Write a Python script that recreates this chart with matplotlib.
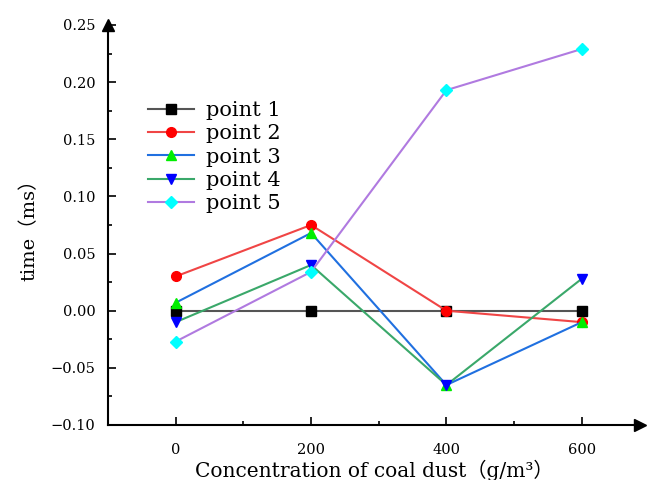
import matplotlib

matplotlib.use("Agg")
import matplotlib.pyplot as plt
from matplotlib.ticker import MultipleLocator

plt.rcParams["font.family"] = ["DejaVu Serif", "Noto Sans CJK SC"]

concentration = [0, 200, 400, 600]
point1 = [0.0, 0.0, 0.0, 0.0]
point2 = [0.030, 0.075, 0.0, -0.010]
point3 = [0.007, 0.068, -0.065, -0.010]
point4 = [-0.010, 0.040, -0.065, 0.028]
point5 = [-0.027, 0.034, 0.193, 0.229]

series = [
    ("point 1", point1, "#555555", "s", "black"),
    ("point 2", point2, "#f04545", "o", "#ff0000"),
    ("point 3", point3, "#2070e0", "^", "#00ee00"),
    ("point 4", point4, "#3aa86a", "v", "#0000ff"),
    ("point 5", point5, "#b07ae0", "D", "#00ffff"),
]

fig = plt.figure(figsize=(6.48, 4.8), dpi=100)
ax = fig.add_axes([108 / 648, 55 / 480, 532 / 648, 400 / 480])

for label, vals, lc, mk, mc in series:
    ms = 6 if mk == "D" else 7
    ax.plot(concentration, vals, color=lc, linewidth=1.5, marker=mk,
            markersize=ms, markerfacecolor=mc, markeredgecolor=mc, label=label)

ax.set_xlim(-100, 686)
ax.set_ylim(-0.10, 0.25)
ax.xaxis.set_major_locator(MultipleLocator(200))
ax.xaxis.set_minor_locator(MultipleLocator(100))
ax.yaxis.set_major_locator(MultipleLocator(0.05))
ax.yaxis.set_minor_locator(MultipleLocator(0.025))
ax.yaxis.set_major_formatter(plt.FuncFormatter(lambda v, p: f"{v:.2f}".replace("-", "\u2212")))
ax.tick_params(which="both", direction="in", labelsize=10.5, width=1.2)
ax.tick_params(which="major", length=6)
ax.tick_params(axis="x", which="major", pad=13)
ax.tick_params(axis="y", which="major", pad=9)
ax.tick_params(which="minor", length=3)

for s in ["top", "right"]:
    ax.spines[s].set_visible(False)
for s in ["left", "bottom"]:
    ax.spines[s].set_linewidth(1.5)

# arrow heads on the axes
ax.plot(1, 0, ">", color="black", markersize=8, transform=ax.transAxes, clip_on=False)
ax.plot(0, 1, "^", color="black", markersize=8, transform=ax.transAxes, clip_on=False)

ax.set_xlabel("Concentration of coal dust\uff08g/m\u00b3\uff09", fontsize=14.5, labelpad=2)
ax.set_ylabel("time\uff08ms\uff09", fontsize=14, labelpad=9)

ax.legend(loc="upper left", bbox_to_anchor=(0.06, 0.83), frameon=False,
          fontsize=15, handlelength=2.2, handletextpad=0.55, labelspacing=0.2,
          borderaxespad=0)

fig.savefig("out.png", dpi=100)
